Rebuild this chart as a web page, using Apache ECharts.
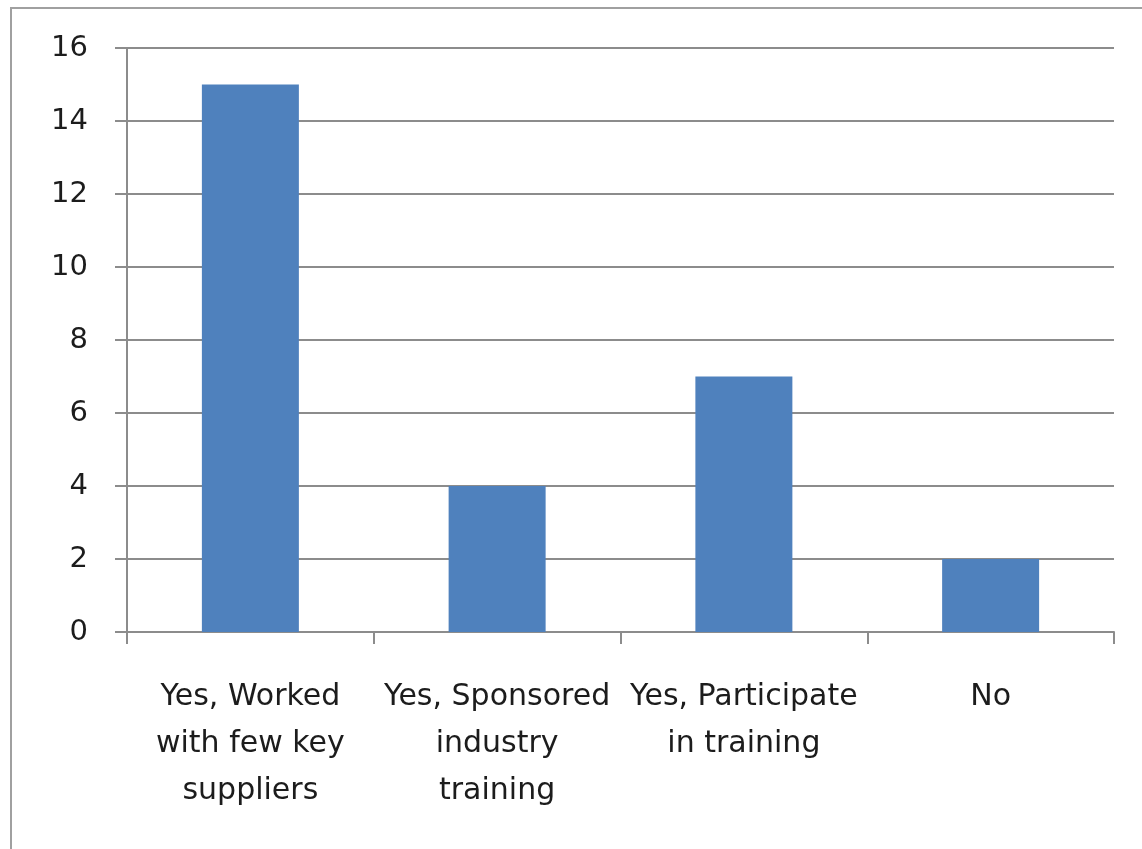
<!DOCTYPE html>
<html>
<head>
<meta charset="utf-8">
<script src="https://cdn.jsdelivr.net/npm/echarts@6/dist/echarts.min.js"></script>
<style>
html,body{margin:0;padding:0;background:#fff;}
#chart{width:1142px;height:849px;}
</style>
</head>
<body>
<div id="chart"></div>
<script>
const categories = [
  "Yes, Worked\nwith few key\nsuppliers",
  "Yes, Sponsored\nindustry\ntraining",
  "Yes, Participate\nin training",
  "No"
];
const values = [15, 4, 7, 2];
const yMin = 0, yMax = 16, yStep = 2;

const chart = echarts.init(document.getElementById('chart'), null, {renderer: 'canvas'});
chart.setOption({
  animation: false,
  backgroundColor: '#ffffff',
  graphic: [{
    type: 'rect',
    shape: {x: 11, y: 8, width: 1200, height: 900},
    style: {fill: 'none', stroke: '#a0a0a0', lineWidth: 2},
    silent: true
  }],
  grid: {left: 127, right: 28, top: 48, bottom: 217, containLabel: false},
  xAxis: {
    type: 'category',
    data: categories,
    axisLine: {show: true, lineStyle: {color: '#8c8c8c', width: 2}},
    axisTick: {show: true, alignWithLabel: false, length: 12, lineStyle: {color: '#8c8c8c', width: 2}},
    axisLabel: {
      interval: 0, margin: 42, color: '#1c1c1c',
      fontFamily: '"DejaVu Sans", sans-serif', fontSize: 30, lineHeight: 47
    },
    splitLine: {show: false}
  },
  yAxis: {
    type: 'value', min: yMin, max: yMax, interval: yStep,
    axisLine: {show: true, lineStyle: {color: '#8c8c8c', width: 2}},
    axisTick: {show: true, length: 12, lineStyle: {color: '#8c8c8c', width: 2}},
    axisLabel: {color: '#1c1c1c', fontFamily: '"DejaVu Sans", sans-serif', fontSize: 29, margin: 39},
    splitLine: {show: true, lineStyle: {color: '#8c8c8c', width: 2}}
  },
  series: [{
    type: 'bar',
    data: values,
    barWidth: 97,
    itemStyle: {color: '#4f81bd'}
  }]
});
</script>
</body>
</html>
